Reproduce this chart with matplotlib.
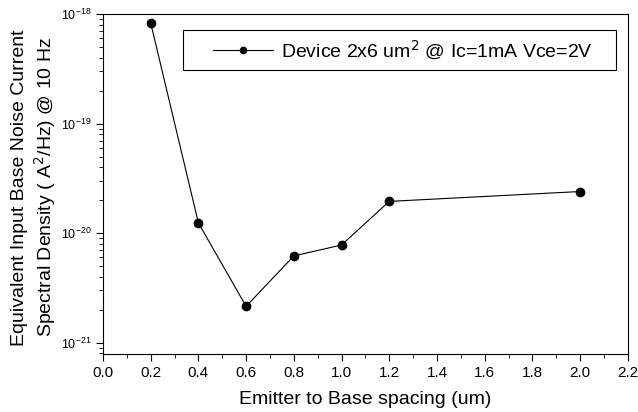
import numpy as np
import matplotlib
matplotlib.use('Agg')
import matplotlib.pyplot as plt
from matplotlib.ticker import MultipleLocator, LogLocator, FormatStrFormatter, NullFormatter, FixedLocator
from matplotlib.patches import Rectangle

plt.rcParams['font.family'] = ['Liberation Sans', 'DejaVu Sans']

# data
spacing = [0.2, 0.4, 0.6, 0.8, 1.0, 1.2, 2.0]
noise = [8.3e-19, 1.24e-20, 2.15e-21, 6.2e-21, 7.8e-21, 1.95e-20, 2.4e-20]
seriesLabel = 'Device 2x6 um$^2$ @ Ic=1mA Vce=2V'
yDecades = [1e-21, 1e-20, 1e-19, 1e-18]

fig = plt.figure(figsize=(6.38, 4.12), dpi=100)
ax = fig.add_axes([0.1614, 0.1408, 0.8226, 0.8252])

ax.plot(spacing, noise, color='black', lw=0.8, marker='o', ms=6, label=seriesLabel)
ax.set_yscale('log')
ax.set_xlim(0.0, 2.2)
ax.set_ylim(7.9e-22, 1e-18)

ax.xaxis.set_major_locator(MultipleLocator(0.2))
ax.xaxis.set_minor_locator(MultipleLocator(0.1))
ax.xaxis.set_major_formatter(FormatStrFormatter('%.1f'))
ax.yaxis.set_major_locator(FixedLocator(yDecades))
ax.yaxis.set_minor_locator(LogLocator(base=10, subs=np.arange(2, 10), numticks=10))
ax.yaxis.set_minor_formatter(NullFormatter())

ax.tick_params(which='both', direction='out', top=False, right=False, labelsize=11)
ax.tick_params(axis='y', which='major', labelsize=9, length=5)
ax.tick_params(which='minor', length=3)
ax.tick_params(axis='x', which='major', length=5)

ax.set_xlabel('Emitter to Base spacing (um)', fontsize=14, labelpad=8)
ax.set_ylabel('Equivalent Input Base Noise Current\nSpectral Density ( A$^2$/Hz) @ 10 Hz',
              fontsize=14, linespacing=1.2)
ax.yaxis.set_label_coords(-0.086, 0.49)

# legend box, drawn by hand so it can be wider than its entry
ax.add_patch(Rectangle((0.152, 0.835), 0.825, 0.118, transform=ax.transAxes,
                       fill=False, edgecolor='black', lw=0.8, zorder=3))
leg = ax.legend(loc='center left', bbox_to_anchor=(0.2095, 0.894), fontsize=14,
                frameon=False, handlelength=3.1, handletextpad=0.4,
                borderpad=0, borderaxespad=0, markerscale=0.75)

plt.savefig('out.png', dpi=100)
plt.close()
